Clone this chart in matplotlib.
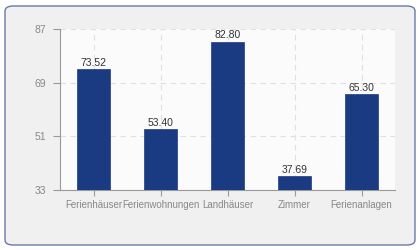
import matplotlib
matplotlib.use("Agg")
import matplotlib.pyplot as plt
from matplotlib.patches import FancyBboxPatch, Rectangle

categories = ["Ferienhäuser", "Ferienwohnungen", "Landhäuser", "Zimmer", "Ferienanlagen"]
values = [73.52, 53.40, 82.80, 37.69, 65.30]
yticks = [33, 51, 69, 87]

plt.rcParams['font.family'] = ['Liberation Sans', 'DejaVu Sans']
plt.rcParams['hatch.color'] = '#e4e4e4'
plt.rcParams['hatch.linewidth'] = 0.6

fig = plt.figure(figsize=(4.2, 2.5), dpi=100)
fig.patch.set_facecolor('white')
border = FancyBboxPatch((5/420, 5/250), 410/420, 239/250,
                        boxstyle="round,pad=0,rounding_size=0.02",
                        transform=fig.transFigure, facecolor='#f0f0f0',
                        edgecolor='#6a78a8', linewidth=1.0, zorder=-10)
fig.patches.append(border)

ax = fig.add_axes([60/420, 1 - 190/250, 335/420, 161/250])
ax.set_zorder(5)
ax.set_facecolor('#fbfbfb')
ax.add_patch(Rectangle((0, 0), 1, 1, transform=ax.transAxes, facecolor='#fbfbfb',
                       edgecolor='none', hatch='//////', zorder=0))

x = list(range(len(categories)))
ax.bar(x, values, width=0.5, bottom=0, color='#1a3a82', edgecolor='#1a3a82',
       linewidth=0.5, zorder=3)
for xi, v in zip(x, values):
    ax.text(xi, v + 0.4, f"{v:.2f}", ha='center', va='bottom', fontsize=7.5, color='#333333', zorder=4)

ax.set_xlim(-0.5, len(categories) - 0.5)
ax.set_ylim(yticks[0], yticks[-1])
ax.set_yticks(yticks)
ax.set_xticks(x)
ax.set_xticklabels(categories)
ax.tick_params(axis='x', labelsize=7, colors='#999999', labelcolor='#888888', length=4, width=0.8, pad=3)
ax.tick_params(axis='y', labelsize=7.5, colors='#999999', labelcolor='#888888', length=5, width=0.8, pad=5)
ax.grid(True, color='#e0e0e0', linestyle=(0, (5, 4)), linewidth=0.8, zorder=1)
for s in ['top', 'right']:
    ax.spines[s].set_visible(False)
for s in ['left', 'bottom']:
    ax.spines[s].set_color('#999999')
    ax.spines[s].set_linewidth(0.8)
ax.set_axisbelow(True)

fig.savefig("out.png", dpi=100, facecolor='white')
